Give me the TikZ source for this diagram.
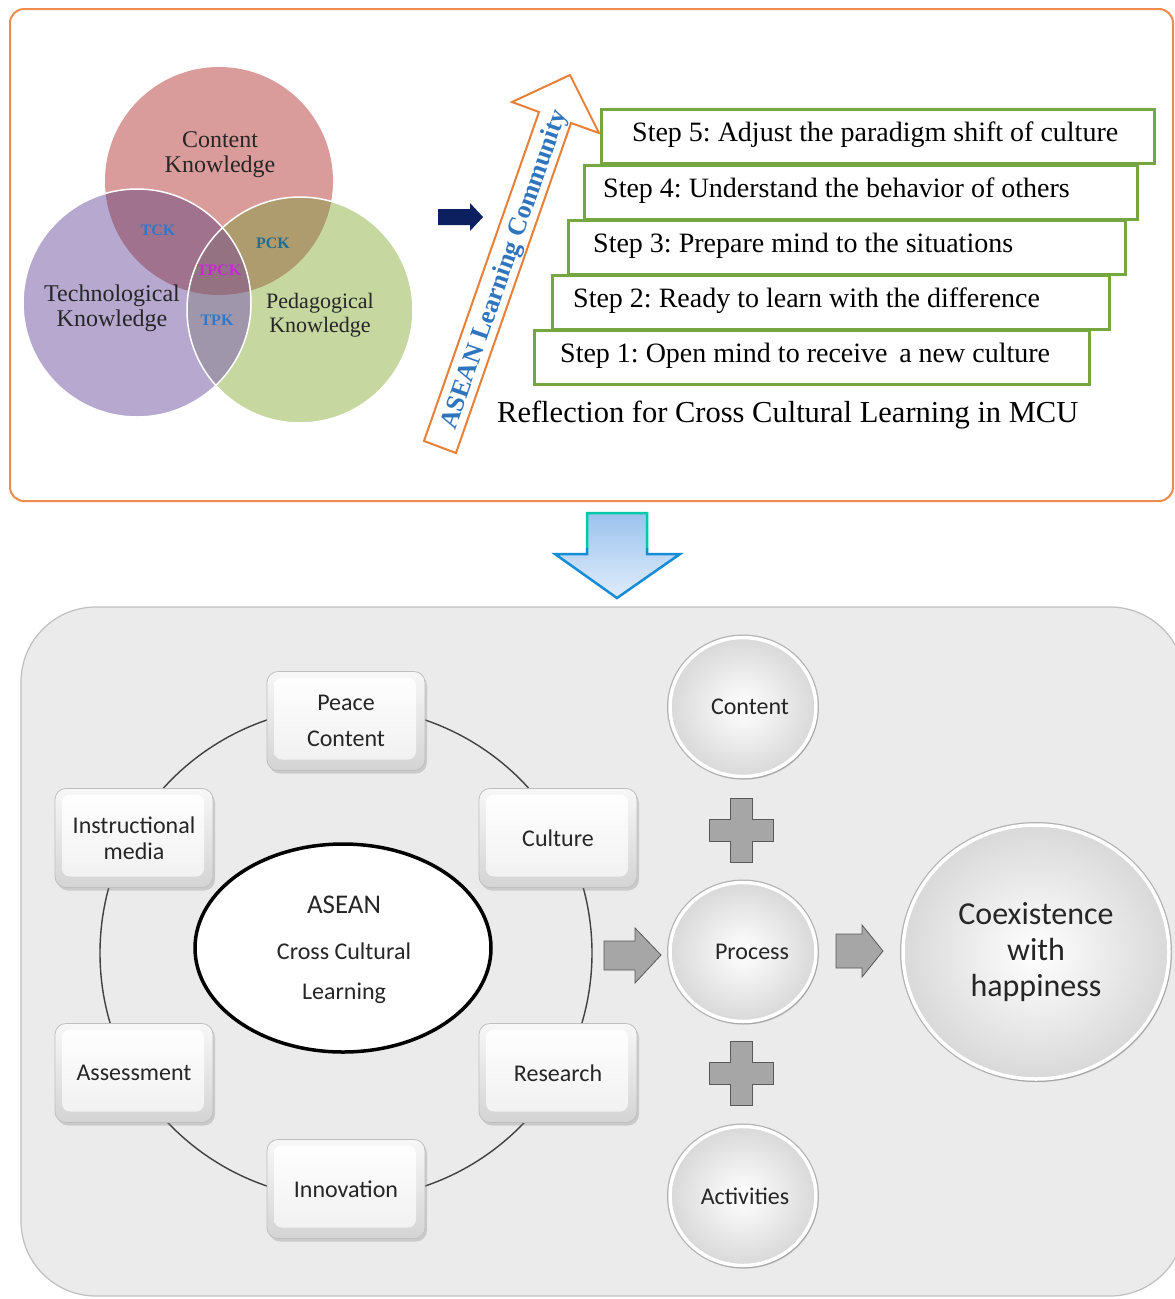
\documentclass[tikz,border=0pt]{standalone}
\usepackage{fontspec}
\setmainfont{Liberation Serif}
\newfontfamily\calib{Carlito}
\usetikzlibrary{shadows,shapes.geometric}
\frenchspacing
\definecolor{ckc}{RGB}{218,156,154}
\definecolor{tkc}{RGB}{182,168,206}
\definecolor{pkc}{RGB}{198,215,160}
\definecolor{tckc}{RGB}{160,114,142}
\definecolor{pckc}{RGB}{174,156,110}
\definecolor{tpkc}{RGB}{160,150,172}
\definecolor{tpckc}{RGB}{148,114,130}
\definecolor{frameorange}{RGB}{238,140,75}
\definecolor{arroworange}{RGB}{232,128,55}
\definecolor{stepgreen}{RGB}{118,166,64}
\definecolor{navyarrow}{RGB}{12,32,96}
\definecolor{aseanblue}{RGB}{46,117,190}
\definecolor{panelgray}{RGB}{235,235,235}
\definecolor{plusgray}{RGB}{166,166,166}
\definecolor{labelblue}{RGB}{50,120,200}
\definecolor{labelteal}{RGB}{30,110,150}
\definecolor{labelmag}{RGB}{200,40,210}
\begin{document}
\begin{tikzpicture}[x=1pt,y=-1pt,
  vt/.style={align=center, text=black!85, inner sep=0},
  vlab/.style={inner sep=0, font=\bfseries\fontsize{16}{16}\selectfont},
  stepbox/.style={draw=stepgreen, line width=2.5pt, fill=white, anchor=north west, minimum height=54, inner sep=0},
  steptext/.style={anchor=west, font=\fontsize{28}{30}\selectfont, inner sep=0},
  bevel/.style={draw=gray!50, line width=0.8pt, rounded corners=11pt, minimum width=158, minimum height=99,
    font=\calib\fontsize{24}{26}\selectfont, align=center, text=black!85, inner sep=0,
    top color=gray!6, bottom color=gray!34,
    drop shadow={opacity=0.3, shadow xshift=2pt, shadow yshift=-3pt},
    path picture={\shade[top color=white, bottom color=gray!12, rounded corners=8pt]
      ([shift={(7pt,-6pt)}]path picture bounding box.north west) rectangle
      ([shift={(-9pt,11pt)}]path picture bounding box.south east);}},
  sphere/.style={ellipse, inner color=white, outer color=gray!30, draw=white, line width=3.5pt,
    preaction={draw=gray!60, line width=6pt},
    drop shadow={opacity=0.25, shadow xshift=2pt, shadow yshift=-3pt},
    font=\calib\fontsize{24}{28}\selectfont, text=black!85, align=center, inner sep=0},
  ctext/.style={inner sep=0, text=black!85},
  blockarrow/.style={fill=plusgray, draw=gray!70!black, line width=0.8pt},
  plussign/.pic={\path[blockarrow] (-11,-32) -- (11,-32) -- (11,-11) -- (32,-11) -- (32,11) -- (11,11) -- (11,32) -- (-11,32) -- (-11,11) -- (-32,11) -- (-32,-11) -- (-11,-11) -- cycle;}
]
\useasboundingbox (0,0) rectangle (1175,1299);
\fill[white] (0,0) rectangle (1175,1299);

% ---------- top frame ----------
\draw[frameorange, line width=2pt, rounded corners=14pt] (10,9) rectangle (1173,501);

% ---------- Venn diagram ----------
\fill[ckc] (219,181) circle[radius=114];
\fill[tkc] (137,303) circle[radius=114];
\fill[pkc] (300,310) circle[radius=113];
\begin{scope}\clip (219,181) circle[radius=114]; \fill[tckc] (137,303) circle[radius=114];\end{scope}
\begin{scope}\clip (219,181) circle[radius=114]; \fill[pckc] (300,310) circle[radius=113];\end{scope}
\begin{scope}\clip (137,303) circle[radius=114]; \fill[tpkc] (300,310) circle[radius=113];\end{scope}
\begin{scope}\clip (219,181) circle[radius=114]; \clip (137,303) circle[radius=114]; \fill[tpckc] (300,310) circle[radius=113];\end{scope}
\draw[white, line width=1.5pt] (137,303) circle[radius=114];
\draw[white, line width=1.5pt] (300,310) circle[radius=113];

\node[vt, font=\fontsize{24}{25}\selectfont] (ckt) at (220,155) {Content\\Knowledge};
\node[vt, font=\fontsize{24}{25}\selectfont] (tkt) at (112,308) {Technological\\Knowledge};
\node[vt, font=\fontsize{22}{24}\selectfont] (pkt) at (320,315) {Pedagogical\\Knowledge};
\node[vlab, text=labelblue] (tck) at (158,230) {TCK};
\node[vlab, text=labelteal] (pck) at (273,243) {PCK};
\node[vlab, text=labelmag] (tpck) at (219,270) {TPCK};
\node[vlab, text=labelblue] (tpk) at (217,320) {TPK};

% ---------- navy arrow ----------
\fill[navyarrow] (438,209) -- (470,209) -- (470,203) -- (483,217) -- (470,231) -- (470,225) -- (438,225) -- cycle;

% ---------- ASEAN arrow ----------
\draw[arroworange, line width=2pt, fill=white, line join=miter]
  (424,441) -- (539,112) -- (512,102) -- (570,75) -- (599,133) -- (571,123) -- (456,453) -- cycle;
\node[rotate=70.7, text=aseanblue, font=\bfseries\fontsize{26}{26}\selectfont, inner sep=0] (alc) at (505,270) {ASEAN Learning Community};

% ---------- steps ----------
\node[stepbox, minimum width=553] (s5) at (600,108) {};
\node[stepbox, minimum width=553] (s4) at (583,164) {};
\node[stepbox, minimum width=557] (s3) at (567,219) {};
\node[stepbox, minimum width=557] (s2) at (551,274) {};
\node[stepbox, minimum width=555] (s1) at (533,329) {};
\node[steptext] (t5) at (632,135) {Step 5: Adjust the paradigm shift of culture};
\node[steptext] (t4) at (603,191) {Step 4: Understand the behavior of others};
\node[steptext] (t3) at (593,246) {Step 3: Prepare mind to the situations};
\node[steptext] (t2) at (573,301) {Step 2: Ready to learn with the difference};
\node[steptext] (t1) at (560,356) {Step 1: Open mind to receive\, a new culture};
\node[anchor=west, inner sep=0, font=\fontsize{30.5}{32}\selectfont] (cap) at (497,415) {Reflection for Cross Cultural Learning in MCU};

% ---------- down arrow ----------
\shade[top color={rgb,255:red,155;green,194;blue,238}, bottom color={rgb,255:red,225;green,237;blue,251}]
  (587,513) -- (647,513) -- (647,554) -- (680,554) -- (617,598) -- (555,554) -- (587,554) -- cycle;
\begin{scope}
\clip (540,505) rectangle (700,548);
\draw[line width=2.5pt, color={rgb,255:red,0;green,200;blue,170}, line join=miter]
  (587,513) -- (647,513) -- (647,554) -- (680,554) -- (617,598) -- (555,554) -- (587,554) -- cycle;
\end{scope}
\begin{scope}
\clip (540,548) rectangle (700,610);
\draw[line width=2.5pt, color={rgb,255:red,20;green,140;blue,215}, line join=miter]
  (587,513) -- (647,513) -- (647,554) -- (680,554) -- (617,598) -- (555,554) -- (587,554) -- cycle;
\end{scope}

% ---------- bottom panel ----------
\draw[fill=panelgray, draw=gray!50, line width=1.2pt, rounded corners=75pt] (21,607) rectangle (1185,1296);
\draw[black!75, line width=1.4pt] (346,953) circle[radius=246];

\node[ellipse, draw=black, line width=3.5pt, fill=white, minimum width=296, minimum height=208] (core) at (343,948) {};
\node[ctext, font=\calib\fontsize{27}{27}\selectfont] (c1) at (344,905) {ASEAN};
\node[ctext, font=\calib\fontsize{24}{24}\selectfont] (c2) at (344,951) {Cross Cultural};
\node[ctext, font=\calib\fontsize{24}{24}\selectfont] (c3) at (344,993) {Learning};

\node[bevel, font=\calib\fontsize{24}{36}\selectfont] (peace) at (346,721) {Peace\\Content};
\node[bevel] (instr) at (134,838) {Instructional\\media};
\node[bevel] (culture) at (558,838) {Culture};
\node[bevel] (assess) at (134,1073) {Assessment};
\node[bevel] (research) at (558,1073) {Research};
\node[bevel] (innov) at (346,1189) {Innovation};

\node[sphere, minimum width=146, minimum height=139] (content) at (743,707) {\hspace*{14pt}Content};
\node[sphere, minimum width=146, minimum height=139] (process) at (743,952) {\hspace*{18pt}Process};
\node[sphere, minimum width=146, minimum height=139] (activities) at (743,1196) {\hspace*{4pt}Activities};
\node[sphere, minimum width=266, minimum height=254, font=\calib\fontsize{32}{36}\selectfont] (coexist) at (1036,952) {Coexistence\\with\\happiness};

\pic at (741,830) {plussign};
\pic at (741,1073) {plussign};

\path[blockarrow] (604,941) -- (635,941) -- (635,928) -- (661,955) -- (635,983) -- (635,970) -- (604,970) -- cycle;
\path[blockarrow] (836,934) -- (862,934) -- (862,925) -- (883,951) -- (862,977) -- (862,968) -- (836,968) -- cycle;
\end{tikzpicture}
\end{document}
